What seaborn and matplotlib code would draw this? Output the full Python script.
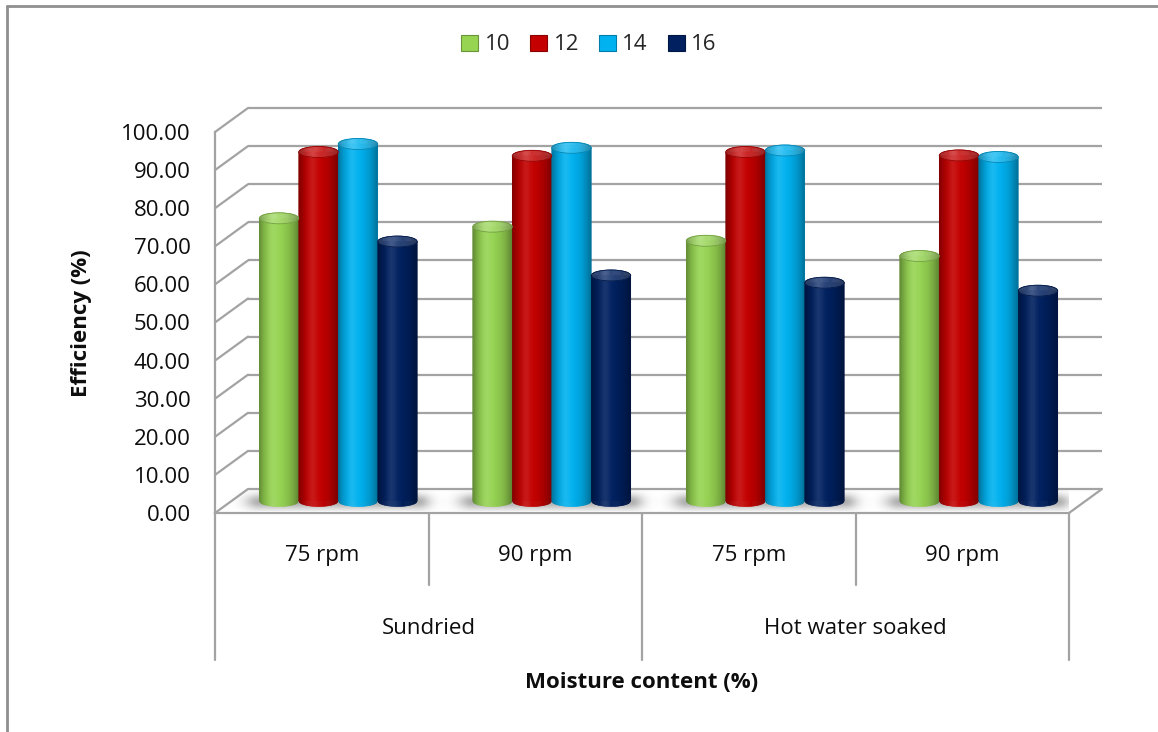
import numpy as np
import pandas as pd
import matplotlib
matplotlib.use("Agg")
import matplotlib.pyplot as plt
import seaborn as sns
from matplotlib.collections import PolyCollection
from matplotlib.patches import Ellipse
from matplotlib.lines import Line2D
from matplotlib.colors import to_rgb

# ---- data -------------------------------------------------------------
treatments = ["Sundried", "Hot water soaked"]
speeds = ["75 rpm", "90 rpm"]
moisture_levels = ["10", "12", "14", "16"]
eff_10 = [74.2, 72.0, 68.3, 64.3]
eff_12 = [91.6, 90.6, 91.6, 90.7]
eff_14 = [93.7, 92.7, 92.0, 90.3]
eff_16 = [68.1, 59.2, 57.3, 55.2]
series_colors = ["#96D452", "#C40000", "#00B2F0", "#002060"]
y_ticks = list(range(0, 101, 10))

conditions = [f"{t} | {s}" for t in treatments for s in speeds]
records = []
for level, values in zip(moisture_levels, [eff_10, eff_12, eff_14, eff_16]):
    for cond, v in zip(conditions, values):
        records.append({"condition": cond, "moisture": level, "efficiency": v})
df = pd.DataFrame(records)

# ---- style ------------------------------------------------------------
sns.set_style("white")
plt.rcParams["font.family"] = ["Open Sans", "DejaVu Sans"]
FS = 16
GRID = "#a3a3a3"
TEXT = "#0d0d0d"

W, H = 1158, 732
fig = plt.figure(figsize=(W / 100, H / 100), dpi=100)
fig.patch.set_facecolor("white")

# front plane of the 3-D box: x from 215 to 1069 px, value 0 at 513 px, 100 at 132 px
ax_left, ax_right, ax_bottom, ax_top = 215, 1069, 513, 132
ax = fig.add_axes([ax_left / W, 1 - ax_bottom / H,
                   (ax_right - ax_left) / W, (ax_bottom - ax_top) / H])
ax.set_facecolor("none")

sns.barplot(data=df, x="condition", y="efficiency", hue="moisture",
            order=conditions, hue_order=moisture_levels, palette=series_colors,
            width=0.74, gap=0, saturation=1, errorbar=None, ax=ax, zorder=2)

px_per_cat = (ax_right - ax_left) / 4
px_per_val = (ax_bottom - ax_top) / 100
depth_x = 33 / px_per_cat      # box depth expressed in data units
depth_y = 24 / px_per_val
cap_h = 11 / px_per_val        # height of the elliptical cylinder caps


def val_at(px):
    """Value-axis coordinate for a figure row given in pixels from the top."""
    return (ax_bottom - px) / px_per_val


def shade(rgb, u, lift=0.0):
    """Horizontal shading across a cylinder (u = 0 left edge .. 1 right edge)."""
    rgb = np.asarray(rgb)
    d = np.where(u < 0.42, (0.42 - u) / 0.42, (u - 0.42) / 0.58)
    k = 1 - 0.38 * d ** 2.2
    col = rgb[None, :] * k[:, None]
    hl = 0.10 * np.exp(-((u - 0.36) / 0.13) ** 2) + lift
    col = col + (1 - col) * hl[:, None]
    return np.clip(col, 0, 1)


# ---- back wall, floor and side gridlines ---------------------------------
for v in y_ticks:
    ax.plot([-0.5 + depth_x, 3.5 + depth_x], [v + depth_y, v + depth_y],
            color=GRID, lw=1.6, clip_on=False, zorder=0.5, solid_capstyle="butt")
    ax.plot([-0.5, -0.5 + depth_x], [v, v + depth_y],
            color=GRID, lw=1.6, clip_on=False, zorder=0.5)
ax.plot([3.5, 3.5 + depth_x], [0, depth_y], color=GRID, lw=1.6,
        clip_on=False, zorder=0.5)

# soft shadows of each cluster on the floor
for g in range(len(conditions)):
    gx0, gx1 = g - 0.37 + depth_x / 2, g + 0.37 + depth_x / 2
    xs = np.linspace(gx0 - 0.2, gx1 + 0.2, 200)
    ys = np.linspace(0.4, depth_y - 0.4, 40)
    ax_x = np.where(xs < gx0, np.exp(-((xs - gx0) / 0.07) ** 2),
                    np.where(xs > gx1, np.exp(-((xs - gx1) / 0.06) ** 2), 1.0))
    ax_y = np.exp(-((ys - depth_y * 0.45) / (depth_y * 0.32)) ** 2)
    alpha = 0.55 * ax_y[:, None] * ax_x[None, :]
    img = np.zeros((len(ys), len(xs), 4))
    img[..., :3] = 0.42
    img[..., 3] = alpha
    ax.imshow(img, extent=(xs[0], xs[-1], ys[0], ys[-1]), origin="lower",
              aspect="auto", interpolation="bilinear", zorder=1)

# ---- cylinders ------------------------------------------------------------
N = 36
u_edges = np.linspace(0, 1, N + 1)
u_mid = (u_edges[:-1] + u_edges[1:]) / 2
for container, base in zip(ax.containers, series_colors):
    rgb = to_rgb(base)
    body_cols = shade(rgb, u_mid)
    cap_cols = shade(rgb, u_mid, lift=0.16)
    for bar in container:
        bar.set_x(bar.get_x() + depth_x / 2)
        bar.set_y(depth_y / 2)
        bar.set_edgecolor("none")
        x0, w, h = bar.get_x(), bar.get_width(), bar.get_height()
        y0, top = depth_y / 2, depth_y / 2 + h
        xc = x0 + w / 2
        xe = x0 + w * u_edges
        half = cap_h / 2 * np.sqrt(np.clip(1 - ((xe - xc) / (w / 2)) ** 2, 0, 1))
        body = [[(xe[i], top), (xe[i], y0 - half[i]), (xe[i + 1], y0 - half[i + 1]),
                 (xe[i + 1], top)] for i in range(N)]
        cap = [[(xe[i], top - half[i]), (xe[i + 1], top - half[i + 1]),
                (xe[i + 1], top + half[i + 1]), (xe[i], top + half[i])] for i in range(N)]
        ax.add_collection(PolyCollection(body, facecolors=body_cols, edgecolors=body_cols,
                                         linewidths=0.4, zorder=3, clip_on=False))
        ax.add_collection(PolyCollection(cap, facecolors=cap_cols, edgecolors=cap_cols,
                                         linewidths=0.4, zorder=4, clip_on=False))
        ax.add_patch(Ellipse((xc, top), w, cap_h, facecolor="none",
                             edgecolor=tuple(np.array(rgb) * 0.75), lw=0.6,
                             zorder=4.5, clip_on=False))

# ---- axes -----------------------------------------------------------------
ax.set_xlim(-0.5, 3.5)
ax.set_ylim(0, 100)
ax.set_xticks([])
ax.set_yticks(y_ticks, labels=[f"{v:.2f}" for v in y_ticks])
ax.tick_params(axis="y", direction="out", length=6.5, width=1.5, color=GRID,
               pad=11, labelsize=FS, labelcolor=TEXT)
for side in ("top", "right"):
    ax.spines[side].set_visible(False)
for side in ("left", "bottom"):
    ax.spines[side].set_color(GRID)
    ax.spines[side].set_linewidth(1.6)

# two-level category table under the floor
for i, x in enumerate(np.arange(-0.5, 3.6, 1.0)):
    row_end = 660 if i % 2 == 0 else 585
    ax.plot([x, x], [0, val_at(row_end)], color=GRID, lw=1.6, clip_on=False)
for i, cond in enumerate(conditions):
    ax.text(i, val_at(555), cond.split(" | ")[1], ha="center", va="center",
            fontsize=FS, color=TEXT, clip_on=False)
for j, t in enumerate(treatments):
    ax.text(2 * j + 0.5, val_at(628), t, ha="center", va="center",
            fontsize=FS, color=TEXT, clip_on=False)

ax.set_xlabel("Moisture content (%)", fontsize=FS, fontweight="bold", va="center",
              color=TEXT)
ax.xaxis.set_label_coords((ax_left + ax_right) / 2 / W, 1 - 683 / H,
                          transform=fig.transFigure)
ax.set_ylabel("Efficiency (%)", fontsize=FS, fontweight="bold", va="center",
              color=TEXT)
ax.yaxis.set_label_coords(81 / W, 1 - 323 / H, transform=fig.transFigure)

sns.move_legend(ax, "center", bbox_to_anchor=(589 / W, 1 - 45 / H),
                bbox_transform=fig.transFigure, ncol=4, frameon=False, title=None,
                fontsize=FS, handlelength=0.75, handleheight=0.75,
                handletextpad=0.3, columnspacing=0.9)
for handle, base in zip(ax.get_legend().legend_handles, series_colors):
    handle.set_edgecolor(tuple(np.array(to_rgb(base)) * 0.7))
    handle.set_linewidth(0.8)

# chart-area frame
fig.add_artist(Line2D([7 / W, 7 / W], [0, 1 - 6 / H], transform=fig.transFigure,
                      color="#8f8f8f", lw=2))
fig.add_artist(Line2D([7 / W, 1], [1 - 6 / H, 1 - 6 / H], transform=fig.transFigure,
                      color="#8f8f8f", lw=2))

fig.savefig("out.png", dpi=100, facecolor="white")
